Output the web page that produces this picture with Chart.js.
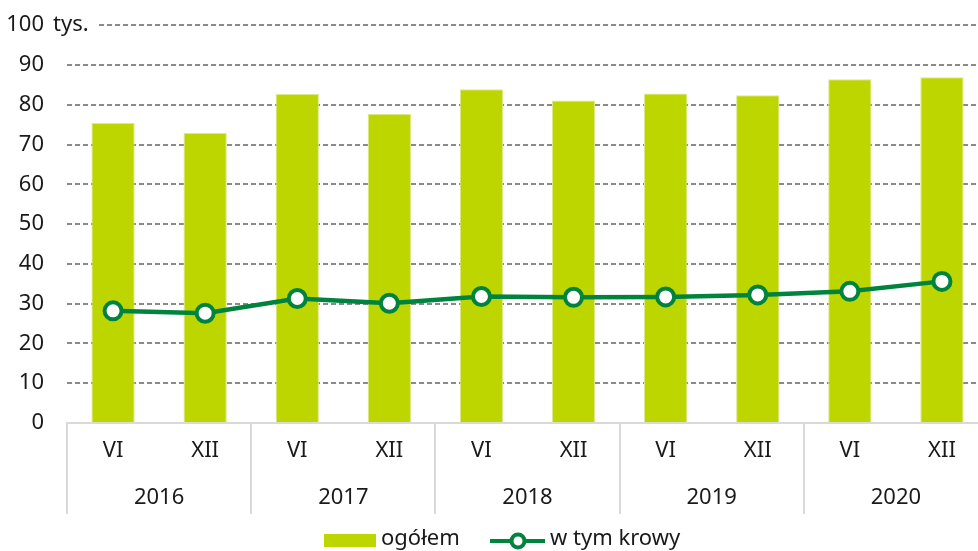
<!DOCTYPE html>
<html lang="pl">
<head>
  <meta charset="UTF-8" />
  <title>Pogłowie bydła</title>
  <script src="https://cdn.jsdelivr.net/npm/chart.js"></script>
  <style>
    html, body {
      margin: 0;
      padding: 0;
      background: #fff;
      overflow: hidden;
    }
    canvas {
      display: block;
      margin-top: -11px;
    }
  </style>
</head>
<body>
  <canvas id="chart" width="988" height="562"></canvas>

  <script>
    const months = ['VI', 'XII', 'VI', 'XII', 'VI', 'XII', 'VI', 'XII', 'VI', 'XII'];
    const years = ['2016', '2017', '2018', '2019', '2020'];
    const ogolem = [75.4, 72.9, 82.7, 77.7, 83.9, 81.1, 82.8, 82.4, 86.4, 86.9];
    const krowy = [28.2, 27.6, 31.3, 30.1, 31.8, 31.6, 31.7, 32.2, 33.1, 35.6];
    const yTicks = [0, 10, 20, 30, 40, 50, 60, 70, 80, 90, 100];

    const FONT = '"Noto Sans", sans-serif';
    const SIZE = 22;
    const BAR = '#bed600';
    const LINE = '#00843d';
    const TEXT = '#1a1a1a';
    const SEP = '#d9d9d9';

    // year labels, separators, "tys." unit and the legend
    const extras = {
      id: 'extras',
      afterDraw(chart) {
        const ctx = chart.ctx;
        const x = chart.scales.x;
        const y = chart.scales.y;
        const area = chart.chartArea;
        const step = x.getPixelForValue(1) - x.getPixelForValue(0);

        ctx.save();
        ctx.strokeStyle = SEP;
        ctx.lineWidth = 2;
        for (let i = 0; i <= years.length; i++) {
          const px = Math.round(x.getPixelForValue(i * 2) - step / 2);
          ctx.beginPath();
          ctx.moveTo(px, area.bottom);
          ctx.lineTo(px, area.bottom + 91);
          ctx.stroke();
        }

        ctx.fillStyle = TEXT;
        ctx.font = SIZE + 'px ' + FONT;
        ctx.textAlign = 'center';
        ctx.textBaseline = 'middle';
        years.forEach((yr, i) => {
          const px = (x.getPixelForValue(i * 2) + x.getPixelForValue(i * 2 + 1)) / 2;
          ctx.fillText(yr, px, area.bottom + 75);
        });

        // unit after the top tick
        const top = y.getPixelForValue(100);
        ctx.fillStyle = '#fff';
        ctx.fillRect(area.left - 1, top - 4, 99 - area.left, 8);
        ctx.fillStyle = TEXT;
        ctx.textAlign = 'left';
        ctx.fillText('tys.', 53, top);

        // legend
        const ly = area.bottom + 118;
        ctx.fillStyle = BAR;
        ctx.fillRect(324, ly - 7, 52, 13);
        ctx.fillStyle = TEXT;
        ctx.fillText('ogółem', 381, ly - 2);

        ctx.strokeStyle = LINE;
        ctx.lineWidth = 4;
        ctx.beginPath();
        ctx.moveTo(490, ly);
        ctx.lineTo(545, ly);
        ctx.stroke();
        ctx.beginPath();
        ctx.arc(518, ly, 6.5, 0, Math.PI * 2);
        ctx.fillStyle = '#fff';
        ctx.fill();
        ctx.stroke();
        ctx.fillStyle = TEXT;
        ctx.fillText('w tym krowy', 550, ly - 2);
        ctx.restore();
      }
    };

    new Chart(document.getElementById('chart'), {
      data: {
        labels: months,
        datasets: [
          {
            type: 'line',
            label: 'w tym krowy',
            data: krowy,
            borderColor: LINE,
            borderWidth: 4.5,
            pointRadius: 8.5,
            pointBorderWidth: 4,
            pointBackgroundColor: '#fff',
            pointBorderColor: LINE,
            tension: 0,
            clip: false,
            order: 0
          },
          {
            type: 'bar',
            label: 'ogółem',
            data: ogolem,
            backgroundColor: BAR,
            borderColor: '#dbe98a',
            borderWidth: 1,
            barPercentage: 0.47,
            categoryPercentage: 1,
            order: 1
          }
        ]
      },
      options: {
        responsive: false,
        animation: false,
        layout: { autoPadding: false, padding: 0 },
        plugins: {
          legend: { display: false },
          tooltip: { enabled: false }
        },
        scales: {
          x: {
            grid: { display: false, drawTicks: false },
            border: { color: SEP, width: 2 },
            ticks: {
              color: TEXT,
              font: { family: FONT, size: SIZE },
              padding: 15,
              maxRotation: 0,
              autoSkip: false
            },
            afterFit: s => { s.height = 128; }
          },
          y: {
            min: 0,
            max: 100,
            afterBuildTicks: s => { s.ticks = yTicks.map(v => ({ value: v })); },
            grid: {
              color: c => (c.tick && c.tick.value === 0 ? 'rgba(0,0,0,0)' : '#8a8a8a'),
              lineWidth: 2,
              drawTicks: false
            },
            border: { display: false, dash: [5, 3] },
            ticks: {
              color: TEXT,
              font: { family: FONT, size: SIZE },
              padding: 23
            },
            afterFit: s => { s.width = 67; }
          }
        }
      },
      plugins: [extras]
    });
  </script>
</body>
</html>
